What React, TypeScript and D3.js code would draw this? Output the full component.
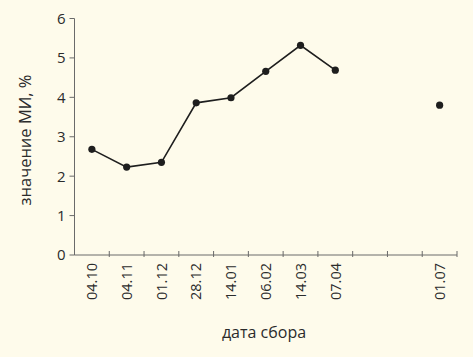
import React from "react";
import * as d3 from "d3";

const categories = ["04.10", "04.11", "01.12", "28.12", "14.01", "06.02", "14.03", "07.04", "", " ", "01.07"];
const labels = ["04.10", "04.11", "01.12", "28.12", "14.01", "06.02", "14.03", "07.04", "", "", "01.07"];
const lineValues: (number | null)[] = [2.68, 2.23, 2.35, 3.86, 3.99, 4.66, 5.32, 4.69, null, null, null];
const isolatedValues: (number | null)[] = [null, null, null, null, null, null, null, null, null, null, 3.8];
const yTicks = [0, 1, 2, 3, 4, 5, 6];

const W = 473, H = 357;
const left = 74.5, right = 457, top = 18.5, bottom = 255;
const font = "'Open Sans', sans-serif";
const textColor = "#2b2b2b";
const axisColor = "#6a6a6a";

export default function App() {
  const x = d3.scaleBand<string>().domain(categories).range([left, right]).padding(0);
  const y = d3.scaleLinear().domain([0, 6]).range([bottom, top]);
  const cx = (i: number) => (x(categories[i]) as number) + x.bandwidth() / 2;
  const line = d3
    .line<number | null>()
    .defined((d) => d !== null)
    .x((_, i) => cx(i))
    .y((d) => y(d as number));
  const boundaries = categories.map((c) => x(c) as number).concat([right]);

  return (
    <svg width={W} height={H} style={{ position: "absolute", left: 0, top: 0, background: "#fefbeb" }}>
      <rect x={0} y={0} width={W} height={H} fill="#fefbeb" />
      {/* y axis */}
      <line x1={left} x2={left} y1={top} y2={bottom} stroke={axisColor} strokeWidth={1} />
      {yTicks.map((t) => (
        <g key={t}>
          <line x1={left - 5} x2={left} y1={y(t)} y2={y(t)} stroke={axisColor} />
          <text x={left - 9} y={y(t)} dy="0.36em" textAnchor="end" fontFamily={font} fontSize={15} fill={textColor}>
            {t}
          </text>
        </g>
      ))}
      {/* x axis */}
      <line x1={left} x2={right} y1={bottom} y2={bottom} stroke={axisColor} />
      {boundaries.slice(1).map((b, i) => (
        <line key={i} x1={b} x2={b} y1={bottom - 4} y2={bottom + 2} stroke={axisColor} />
      ))}
      {labels.map((l, i) =>
        l ? (
          <text
            key={i}
            transform={`translate(${cx(i)},${bottom + 8}) rotate(-90)`}
            dy="0.36em"
            textAnchor="end"
            fontFamily={font}
            fontSize={14.5}
            fill={textColor}
          >
            {l}
          </text>
        ) : null
      )}
      <text x={264} y={338} textAnchor="middle" fontFamily={font} fontSize={16} fill={textColor}>
        дата сбора
      </text>
      <text
        transform={`translate(25,${140}) rotate(-90)`}
        textAnchor="middle"
        dy="0.36em"
        fontFamily={font}
        fontSize={16.5}
        fill={textColor}
      >
        значение МИ, %
      </text>
      <path d={line(lineValues) || ""} fill="none" stroke="#1e1e1e" strokeWidth={1.6} />
      {lineValues.map((v, i) =>
        v !== null ? <circle key={i} cx={cx(i)} cy={y(v)} r={3.6} fill="#1e1e1e" /> : null
      )}
      {isolatedValues.map((v, i) =>
        v !== null ? <circle key={"s" + i} cx={cx(i)} cy={y(v)} r={3.6} fill="#1e1e1e" /> : null
      )}
    </svg>
  );
}
